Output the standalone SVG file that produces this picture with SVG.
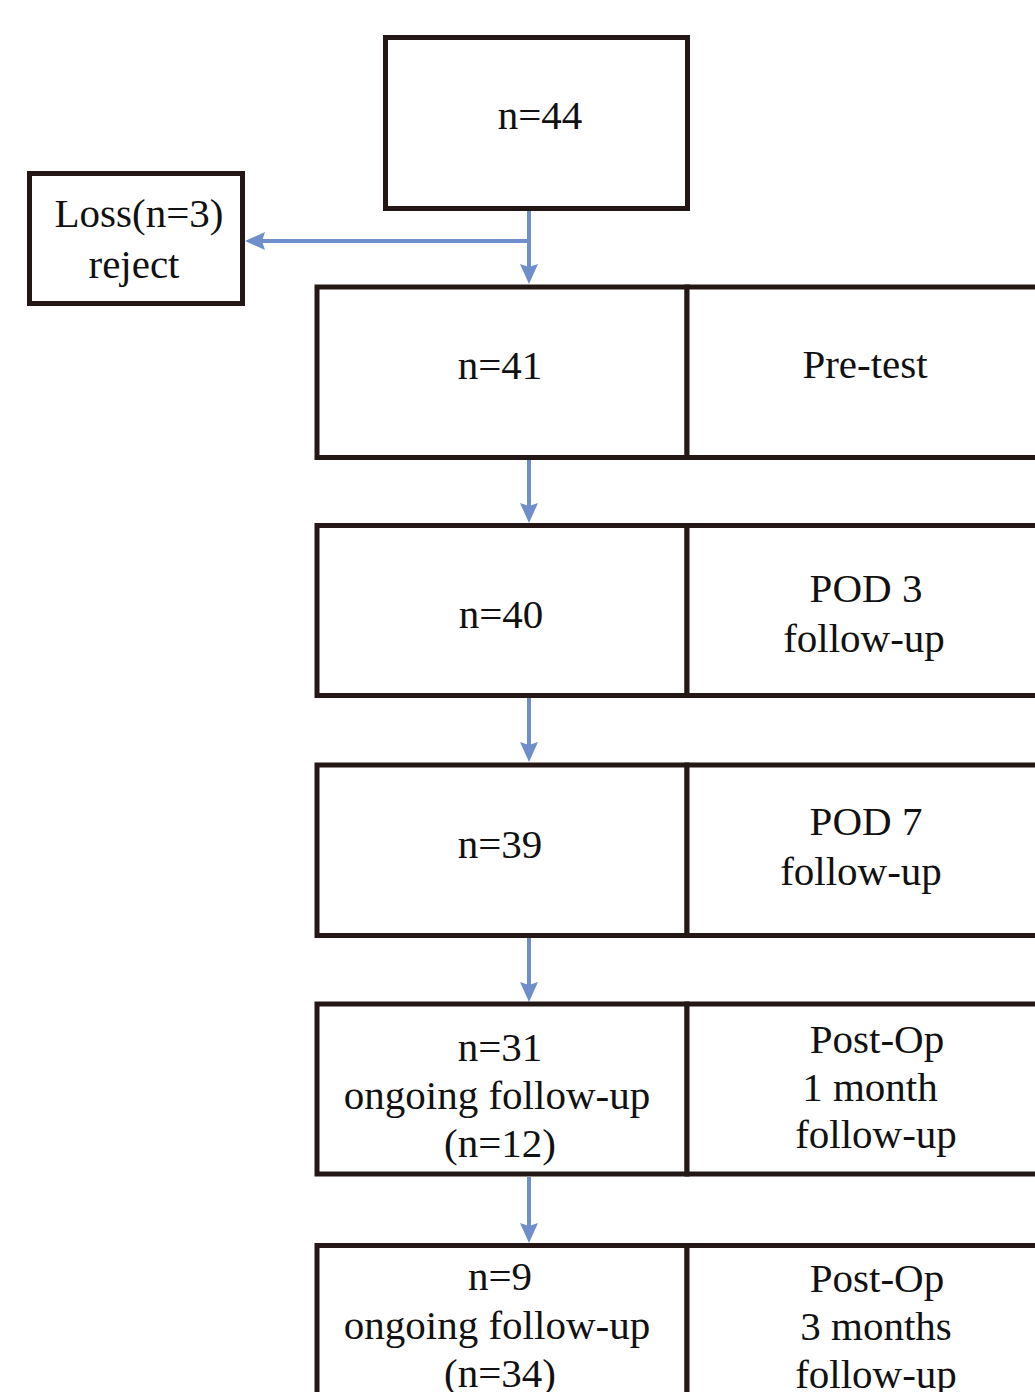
<svg xmlns="http://www.w3.org/2000/svg" width="1035" height="1392" viewBox="0 0 1035 1392">
  <style>
    .box { fill: #ffffff; stroke: #231815; stroke-width: 5; }
    .t { font-family: "Liberation Serif", "Times New Roman", serif; font-size: 41px; fill: #111111; text-anchor: middle; }
    .conn { stroke: #6f8fca; stroke-width: 4; fill: none; }
  </style>
  <defs>
    <marker id="ah" markerUnits="userSpaceOnUse" markerWidth="22" markerHeight="20" refX="3" refY="9" orient="auto">
      <path d="M0,0 L20,9 L0,18 L3,9 z" fill="#6f8fca"/>
    </marker>
  </defs>
  <rect x="0" y="0" width="1035" height="1392" fill="#ffffff"/>

  <g id="connectors">
    <line class="conn" x1="529" y1="211" x2="529" y2="267" marker-end="url(#ah)"/>
    <line class="conn" x1="531" y1="241" x2="262" y2="241" marker-end="url(#ah)"/>
    <line class="conn" x1="529" y1="460" x2="529" y2="506" marker-end="url(#ah)"/>
    <line class="conn" x1="529" y1="698" x2="529" y2="745" marker-end="url(#ah)"/>
    <line class="conn" x1="529" y1="938" x2="529" y2="985" marker-end="url(#ah)"/>
    <line class="conn" x1="529" y1="1177" x2="529" y2="1226" marker-end="url(#ah)"/>
  </g>

  <g id="node-n44">
    <rect class="box" x="385.5" y="37.5" width="302" height="171"/>
    <text class="t" x="540" y="129">n=44</text>
  </g>

  <g id="node-loss">
    <rect class="box" x="29.5" y="173.5" width="213" height="130"/>
    <text class="t" x="139" y="227">Loss(n=3)</text>
    <text class="t" x="134" y="278">reject</text>
  </g>

  <g id="node-n41">
    <rect class="box" x="317" y="287" width="370" height="170.5"/>
    <text class="t" x="500" y="379">n=41</text>
  </g>
  <g id="node-pretest">
    <rect class="box" x="687" y="287" width="360" height="170.5"/>
    <text class="t" x="865" y="378">Pre-test</text>
  </g>

  <g id="node-n40">
    <rect class="box" x="317" y="525.5" width="370" height="170"/>
    <text class="t" x="501" y="628">n=40</text>
  </g>
  <g id="node-pod3">
    <rect class="box" x="687" y="525.5" width="360" height="170"/>
    <text class="t" x="866" y="602">POD 3</text>
    <text class="t" x="864" y="652">follow-up</text>
  </g>

  <g id="node-n39">
    <rect class="box" x="317" y="765" width="370" height="170.5"/>
    <text class="t" x="500" y="858">n=39</text>
    </g>
  <g id="node-pod7">
    <rect class="box" x="687" y="765" width="360" height="170.5"/>
    <text class="t" x="866" y="835">POD 7</text>
    <text class="t" x="861" y="885">follow-up</text>
  </g>

  <g id="node-n31">
    <rect class="box" x="317" y="1004" width="370" height="170"/>
    <text class="t" x="500" y="1061">n=31</text>
    <text class="t" x="497" y="1109">ongoing follow-up</text>
    <text class="t" x="500" y="1157">(n=12)</text>
  </g>
  <g id="node-1month">
    <rect class="box" x="687" y="1004" width="360" height="170"/>
    <text class="t" x="877" y="1053">Post-Op</text>
    <text class="t" x="870" y="1101">1 month</text>
    <text class="t" x="876" y="1148">follow-up</text>
  </g>

  <g id="node-n9">
    <rect class="box" x="317" y="1245.5" width="370" height="170"/>
    <text class="t" x="500" y="1290">n=9</text>
    <text class="t" x="497" y="1339">ongoing follow-up</text>
    <text class="t" x="500" y="1387">(n=34)</text>
  </g>
  <g id="node-3months">
    <rect class="box" x="687" y="1245.5" width="360" height="170"/>
    <text class="t" x="877" y="1292">Post-Op</text>
    <text class="t" x="876" y="1340">3 months</text>
    <text class="t" x="876" y="1388">follow-up</text>
  </g>
</svg>
